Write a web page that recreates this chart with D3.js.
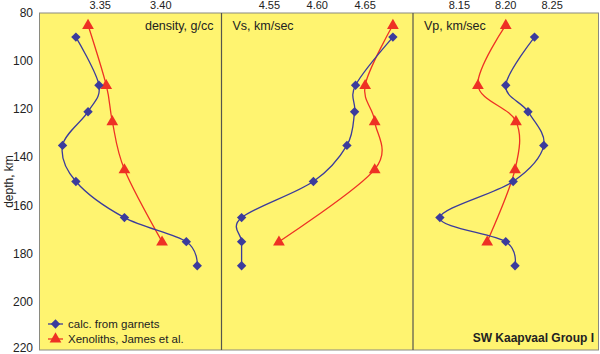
<!DOCTYPE html>
<html>
<head>
<meta charset="utf-8">
<script src="https://cdnjs.cloudflare.com/ajax/libs/d3/7.8.5/d3.min.js"></script>
<style>
    body { margin: 0; background: #fff; }
    text { font-family: "Liberation Sans", Arial, sans-serif; fill: #222; }
</style>
</head>
<body>
<svg id="chart" width="600" height="354"></svg>
<script>
// depths (km)
const garnetDepths = [90, 110, 121, 135, 150, 165, 175, 185];
const xenoDepths = [85, 110, 125, 145, 175];

// density, g/cc
const garnetDensity = [3.330, 3.349, 3.340, 3.319, 3.330, 3.370, 3.421, 3.430];
const xenoDensity = [3.340, 3.355, 3.360, 3.370, 3.401];

// Vs, km/sec
const garnetVs = [4.679, 4.640, 4.639, 4.631, 4.596, 4.521, 4.521, 4.521];
const xenoVs = [4.679, 4.650, 4.660, 4.660, 4.560];

// Vp, km/sec
const garnetVp = [8.231, 8.200, 8.224, 8.241, 8.208, 8.129, 8.200, 8.210];
const xenoVp = [8.200, 8.170, 8.211, 8.210, 8.180];

const depthTicks = [80, 100, 120, 140, 160, 180, 200, 220];
const densityTicks = [3.35, 3.40];
const vsTicks = [4.55, 4.60, 4.65];
const vpTicks = [8.15, 8.20, 8.25];

const legendLabels = ["calc. from garnets", "Xenoliths, James et al."];

const plotTop = 13, plotBottom = 350;
const blue = "#3b3b9c", red = "#ee3124";

const svg = d3.select("#chart");

const yScale = d3.scaleLinear().domain([80, 220]).range([plotTop, plotBottom]);

const panels = [
    {x0: 39.5, x1: 221.5, domain: [3.30, 3.45], ticks: densityTicks, fmt: ".2f",
     garnet: garnetDensity, xeno: xenoDensity, title: "density, g/cc", anchor: "end"},
    {x0: 221.5, x1: 413, domain: [4.50, 4.70], ticks: vsTicks, fmt: ".2f",
     garnet: garnetVs, xeno: xenoVs, title: "Vs, km/sec", anchor: "start"},
    {x0: 413, x1: 598.5, domain: [8.10, 8.30], ticks: vpTicks, fmt: ".2f",
     garnet: garnetVp, xeno: xenoVp, title: "Vp, km/sec", anchor: "start"}
];

// background
svg.append("rect")
    .attr("x", 39.5).attr("y", plotTop)
    .attr("width", 598.5 - 39.5).attr("height", plotBottom - plotTop)
    .attr("fill", "#fff470")
    .attr("stroke", "#8a8a80")
    .attr("stroke-width", 1);

// left axis
depthTicks.forEach(function (d) {
    svg.append("text")
        .attr("x", 33)
        .attr("y", Math.min(yScale(d) + 4, 352))
        .attr("text-anchor", "end")
        .style("font-size", "12px")
        .text(d);
});

svg.append("text")
    .attr("transform", "translate(13," + ((plotTop + plotBottom) / 2) + ") rotate(-90)")
    .attr("text-anchor", "middle")
    .style("font-size", "12px")
    .text("depth, km");

const symDiamond = d3.symbol().type(d3.symbolSquare).size(44);
const symTriangle = d3.symbol().type(d3.symbolTriangle).size(60);

function markerTransform(x, y, isDiamond) {
    return "translate(" + x + "," + y + ")" + (isDiamond ? " rotate(45)" : "");
}

panels.forEach(function (p, i) {
    const xScale = d3.scaleLinear().domain(p.domain).range([p.x0, p.x1]);

    if (i > 0) {
        svg.append("line")
            .attr("x1", p.x0).attr("x2", p.x0)
            .attr("y1", plotTop).attr("y2", plotBottom)
            .attr("stroke", "#55554d")
            .attr("stroke-width", 1.2);
    }

    // top tick labels
    p.ticks.forEach(function (t) {
        svg.append("text")
            .attr("x", xScale(t))
            .attr("y", 9)
            .attr("text-anchor", "middle")
            .style("font-size", "11px")
            .text(d3.format(p.fmt)(t));
    });

    svg.append("text")
        .attr("x", p.anchor === "end" ? p.x1 - 8 : p.x0 + 11)
        .attr("y", 30)
        .attr("text-anchor", p.anchor)
        .style("font-size", "12.5px")
        .text(p.title);

    const line = d3.line()
        .x(function (d) { return xScale(d.v); })
        .y(function (d) { return yScale(d.depth); })
        .curve(d3.curveCardinal.tension(0));

    const garnetData = garnetDepths.map(function (d, k) { return {depth: d, v: p.garnet[k]}; });
    const xenoData = xenoDepths.map(function (d, k) { return {depth: d, v: p.xeno[k]}; });

    svg.append("path")
        .datum(xenoData)
        .attr("fill", "none")
        .attr("stroke", red)
        .attr("stroke-width", 1.3)
        .attr("d", line);

    svg.append("path")
        .datum(garnetData)
        .attr("fill", "none")
        .attr("stroke", blue)
        .attr("stroke-width", 1.3)
        .attr("d", line);

    svg.selectAll(null)
        .data(xenoData)
        .enter()
        .append("path")
        .attr("transform", function (d) { return markerTransform(xScale(d.v), yScale(d.depth) + 0.5, false); })
        .attr("d", symTriangle)
        .attr("fill", red);

    svg.selectAll(null)
        .data(garnetData)
        .enter()
        .append("path")
        .attr("transform", function (d) { return markerTransform(xScale(d.v), yScale(d.depth), true); })
        .attr("d", symDiamond)
        .attr("fill", blue);
});

// legend
[blue, red].forEach(function (c, i) {
    const ly = 324 + i * 15;
    svg.append("line")
        .attr("x1", 48).attr("x2", 63)
        .attr("y1", ly).attr("y2", ly)
        .attr("stroke", c)
        .attr("stroke-width", 1.3);
    svg.append("path")
        .attr("transform", markerTransform(55.5, ly, i === 0))
        .attr("d", i === 0 ? symDiamond : symTriangle)
        .attr("fill", c);
    svg.append("text")
        .attr("x", 68)
        .attr("y", ly + 4)
        .style("font-size", "11.5px")
        .text(legendLabels[i]);
});

svg.append("text")
    .attr("x", 594)
    .attr("y", 342)
    .attr("text-anchor", "end")
    .style("font-size", "12px")
    .style("font-weight", "bold")
    .text("SW Kaapvaal Group I");
</script>
</body>
</html>
